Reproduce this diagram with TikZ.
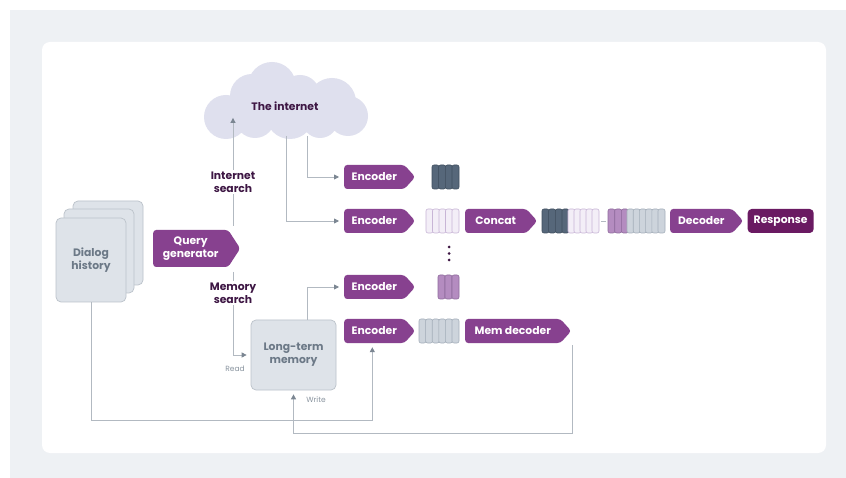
\documentclass[tikz,border=0pt]{standalone}
\usepackage{fontspec}
\setmainfont{Poppins}
\usetikzlibrary{arrows.meta,positioning,calc,shapes.symbols}
\definecolor{purp}{HTML}{87418F}
\definecolor{purpdark}{HTML}{6A1A62}
\definecolor{ink}{HTML}{3E1744}
\definecolor{cline}{HTML}{B2B9C1}
\definecolor{ctip}{HTML}{7B8692}
\definecolor{card}{HTML}{DEE3E9}
\definecolor{cardline}{HTML}{BBC2CA}
\definecolor{cardtext}{HTML}{6C7987}
\definecolor{cloudc}{HTML}{DFE0EE}
\definecolor{bgc}{HTML}{EEF1F4}
\definecolor{slate}{HTML}{56677A}
\definecolor{slateline}{HTML}{3F4E5E}
\definecolor{lav}{HTML}{F3EEF7}
\definecolor{lavline}{HTML}{C8B5D6}
\definecolor{mauve}{HTML}{B48CC0}
\definecolor{mauveline}{HTML}{8E6A9C}
\definecolor{steel}{HTML}{CDD4DC}
\definecolor{steelline}{HTML}{A5AFBA}
\newcommand{\lbfont}{\fontsize{10.8}{13}\selectfont\bfseries}
\tikzset{
  modul/.style={signal,signal to=east,signal pointer angle=96,fill=purp,rounded corners=3pt,
                inner sep=0pt,minimum height=24pt,text=white,font=\lbfont,anchor=west},
  valasz/.style={rectangle,fill=purpdark,rounded corners=4pt,inner sep=0pt,minimum height=24pt,
                 minimum width=66pt,text=white,font=\lbfont},
  card/.style={draw=cardline,fill=card,rounded corners=5pt,line width=0.7pt,minimum width=70pt,
               minimum height=84pt,text=cardtext,font=\lbfont,align=center},
  vec/.style={rounded corners=2pt,minimum width=7pt,minimum height=24pt,inner sep=0pt,line width=0.6pt},
  arr/.style={draw=cline,line width=0.8pt,-{Triangle[length=5pt,width=5pt,color=ctip]},shorten >=4pt},
  conn/.style={draw=cline,line width=0.8pt},
  lbl/.style={font=\lbfont,text=ink,align=center,fill=white,inner sep=2pt},
  apro/.style={font=\fontsize{7.5}{9}\selectfont,text=cardtext!80},
}
\begin{document}
\begin{tikzpicture}[x=1pt,y=-1pt]
  \useasboundingbox (0,0) rectangle (846,478);
  \fill[bgc] (10,10) rectangle (846,478);
  \fill[white,rounded corners=8pt] (42,42) rectangle (826,453);

  % felho
  \fill[cloudc] (226,117) circle[radius=22] (252,96) circle[radius=22] (272,86) circle[radius=24]
    (300,95) circle[radius=20] (332,102) circle[radius=24] (348,116) circle[radius=20]
    (290,115) circle[radius=24] (255,118) circle[radius=20] (320,120) circle[radius=18];
  \node[font=\lbfont,text=ink] (inet) at (285,106) {The internet};

  % dialog history
  \node[card] (dlg3) at (108,243) {};
  \node[card] (dlg2) at (99,251) {};
  \node[card] (dlg) at (91,260) {Dialog\\history};

  \node[modul,minimum width=87pt,minimum height=37pt,signal pointer angle=114,align=center]
    (qgen) at (153,248.5) {Query\\generator};
  \node[card,minimum width=85pt,minimum height=70pt] (ltm) at (293.5,355) {Long-term\\memory};

  % encoderek
  \node[modul,minimum width=71pt] (enc1) at (344,177) {Encoder};
  \node[modul,minimum width=71pt] (enc2) at (344,221) {Encoder};
  \node[modul,minimum width=71pt] (enc3) at (344,287) {Encoder};
  \node[modul,minimum width=71pt] (enc4) at (344,331) {Encoder};
  \node[modul,minimum width=72pt] (concat) at (465,221) {Concat};
  \node[modul,minimum width=106pt] (mdec) at (465,331) {Mem decoder};
  \node[modul,minimum width=73pt] (dec) at (670,221) {Decoder};
  \node[valasz,right=4pt of dec] (resp) {Response};

  % vektorok
  \foreach \i in {1,...,4}
    \node[vec,fill=slate,draw=slateline] (va\i) at ({435.5+6.67*(\i-1)},177) {};
  \foreach \i in {1,...,5}
    \node[vec,fill=lav,draw=lavline] (vb\i) at ({429.5+6.5*(\i-1)},221) {};
  \foreach \i in {1,...,3}
    \node[vec,fill=mauve,draw=mauveline] (vc\i) at ({441.5+7*(\i-1)},287) {};
  \foreach \i in {1,...,6}
    \node[vec,fill=steel,draw=steelline] (vd\i) at ({422.5+6.6*(\i-1)},331) {};
  \foreach \i in {1,...,4}
    \node[vec,fill=slate,draw=slateline] (ka\i) at ({545.5+6.67*(\i-1)},221) {};
  \foreach \i in {1,...,5}
    \node[vec,fill=lav,draw=lavline] (kb\i) at ({571.5+6*(\i-1)},221) {};
  \foreach \i in {1,...,3}
    \node[vec,fill=mauve,draw=mauveline] (kc\i) at ({611.5+6.7*(\i-1)},221) {};
  \foreach \i in {1,...,6}
    \node[vec,fill=steel,draw=steelline] (kd\i) at ({630.5+6.2*(\i-1)},221) {};
  \draw[conn] ([xshift=2pt]kb5.east) -- ([xshift=-2pt]kc1.west);
  \foreach \y in {247,253.5,260}
    \fill[ink] (449,\y) circle[radius=1.5];

  % osszekotok
  \coordinate (qtop) at (233,226);
  \coordinate (qbot) at (233,272);
  \coordinate (c1) at (307,136);
  \coordinate (c2) at (286,136);
  \coordinate (wstart) at (572,345);
  \coordinate (low1) at (0,420);
  \coordinate (low2) at (0,433);
  \draw[arr] (qtop) -- (qtop |- inet.south);
  \draw[arr,shorten >=5pt] (c1) |- (enc1.west);
  \draw[arr,shorten >=5pt] (c2) |- (enc2.west);
  \draw[arr] (qbot) |- (ltm.west);
  \draw[arr,shorten >=5pt] ([xshift=14pt]ltm.north) |- (enc3.west);
  \draw[arr] (dlg.south) -- (dlg.south |- low1) -| ([xshift=-2pt]enc4.south);
  \draw[arr] (wstart) -- (wstart |- low2) -| (ltm.south);

  \node[lbl] (isearch) at (233,182) {Internet\\search};
  \node[lbl] (msearch) at (233,293) {Memory\\search};
  \node[apro] (read) at (235,369) {Read};
  \node[apro] (write) at (316,400) {Write};
\end{tikzpicture}
\end{document}
